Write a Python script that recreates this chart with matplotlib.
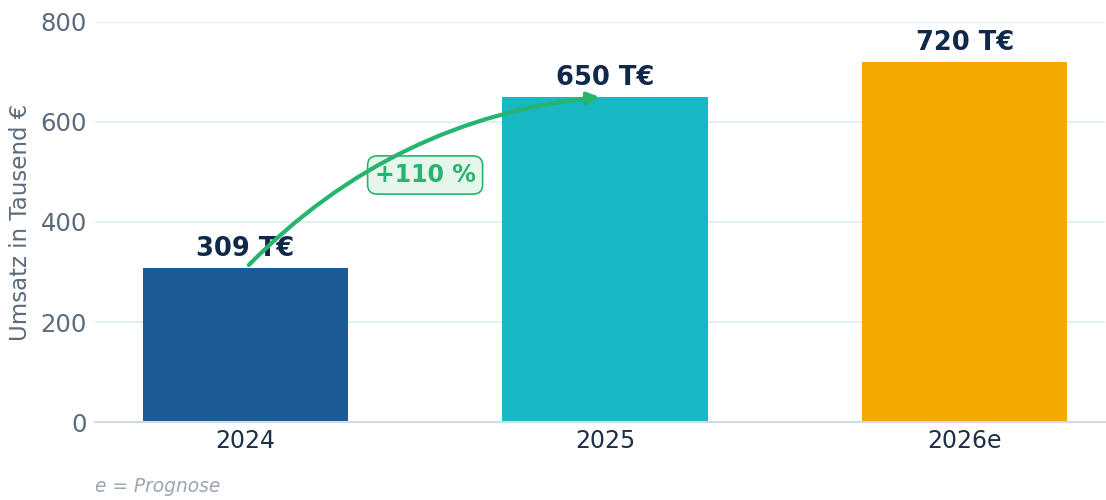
import matplotlib.pyplot as plt

years = ["2024", "2025", "2026e"]
umsatz = [309, 650, 720]
labels = ["309 T€", "650 T€", "720 T€"]
colors = ["#1b5a96", "#17b8c4", "#f2a900"]
growth_label = "+110 %"
yticks = [0, 200, 400, 600, 800]

fig = plt.figure(figsize=(11.06, 5.0), dpi=100)
ax = fig.add_axes([0.086, 0.156, 0.913, 0.8])

x = range(len(years))
bars = ax.bar(x, umsatz, width=0.57, color=colors, zorder=2)

for xi, val, lab in zip(x, umsatz, labels):
    ax.annotate(lab, (xi, val), xytext=(0, 4), textcoords="offset points",
                ha="center", va="bottom", fontsize=18.5, fontweight="bold",
                color="#10284a", zorder=4)

# growth arrow 2024 -> 2025
ax.annotate("", xy=(0.985, umsatz[1]), xytext=(0.01, umsatz[0] + 5),
            arrowprops=dict(arrowstyle="-|>,head_length=0.7,head_width=0.35",
                            color="#27b46e", lw=3,
                            connectionstyle="arc3,rad=-0.18",
                            shrinkA=0, shrinkB=0),
            zorder=5)
ax.text(0.5, 494, growth_label, ha="center", va="center", fontsize=17,
        fontweight="bold", color="#27b46e", zorder=4,
        bbox=dict(boxstyle="round,pad=0.3,rounding_size=0.4",
                  fc="#e6f6ed", ec="#27b46e", lw=1.2))

ax.set_xlim(-0.417, 2.389)
ax.set_ylim(0, 800)
ax.set_xticks(list(x))
ax.set_xticklabels(years)
ax.set_yticks(yticks)
ax.tick_params(axis="x", length=0, pad=5, labelsize=17, labelcolor="#1e2f48")
ax.tick_params(axis="y", length=0, pad=6, labelsize=17.5, labelcolor="#5b6b7d")

ax.grid(axis="y", color="#e3edf7", lw=1.5, zorder=0)
ax.set_axisbelow(True)
for s in ["top", "right", "left"]:
    ax.spines[s].set_visible(False)
ax.spines["bottom"].set_color("#cfdbe8")
ax.spines["bottom"].set_linewidth(1.5)

ax.set_ylabel("Umsatz in Tausend €", fontsize=16.5, color="#5b6b7d", labelpad=6)

fig.text(0.086, 0.008, "e = Prognose", fontsize=13.4, style="italic",
         color="#9aa6b3", ha="left", va="bottom")

fig.savefig("out.png", dpi=100)
